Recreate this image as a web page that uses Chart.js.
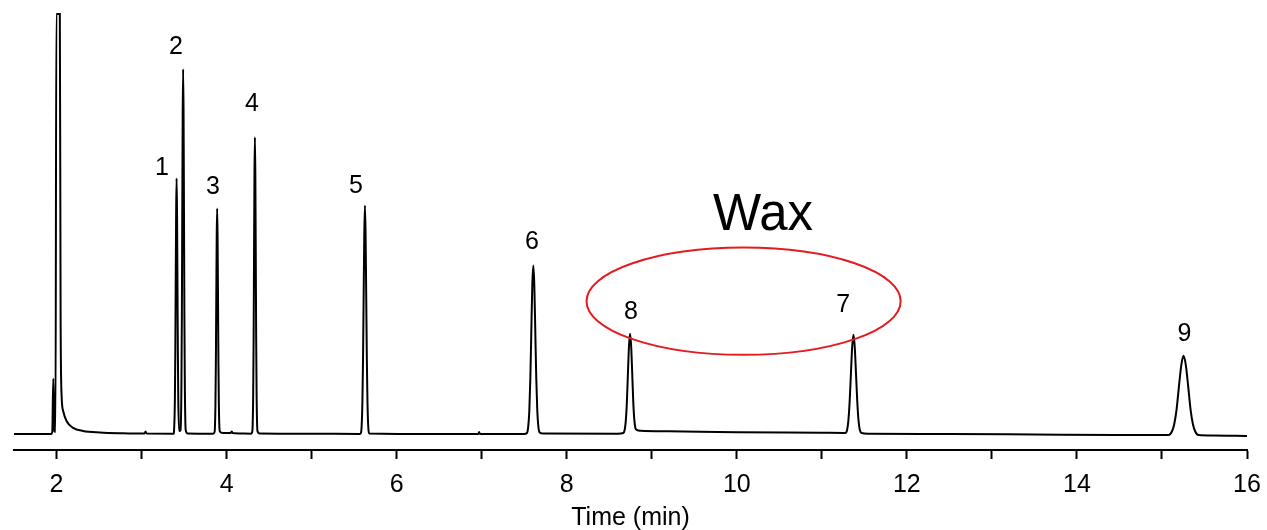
<!DOCTYPE html>
<html>
<head>
<meta charset="utf-8">
<script src="https://cdn.jsdelivr.net/npm/chart.js@4/dist/chart.umd.min.js"></script>
<style>
  body { margin: 0; background: #fff; }
  #wrap { width: 1267px; height: 530px; }
</style>
</head>
<body>
<div id="wrap"><canvas id="chrom"></canvas></div>
<script>
// retention time (min) and detector signal
var retentionTime = [
  1.50, 1.94,
  1.950, 1.962, 1.975, 1.988,
  1.998, 2.039, 2.048, 2.059, 2.078, 2.118, 2.195, 2.313, 2.51, 2.78, 3.0, 3.035, 3.047, 3.06, 3.38,
  3.382, 3.392, 3.397, 3.402, 3.407, 3.412, 3.417, 3.422, 3.427, 3.432, 3.442,
  3.459, 3.469, 3.474, 3.479, 3.484, 3.489, 3.494, 3.499, 3.504, 3.509, 3.519, 3.54,
  3.84,
  3.859, 3.869, 3.874, 3.879, 3.884, 3.889, 3.894, 3.899, 3.904, 3.909, 3.919, 3.94, 4.0, 4.05, 4.06, 4.07, 4.15, 4.29,
  4.303, 4.313, 4.318, 4.323, 4.328, 4.333, 4.338, 4.343, 4.348, 4.353, 4.363, 4.39,
  5.0, 5.57,
  5.577, 5.587, 5.597, 5.6045, 5.612, 5.6195, 5.627, 5.6345, 5.642, 5.6495, 5.657, 5.667, 5.677,
  6.5, 6.96, 6.97, 6.98, 7.5,
  7.532, 7.547, 7.560, 7.572, 7.5835, 7.595, 7.607, 7.619, 7.6305, 7.642, 7.654, 7.667, 7.682, 7.72,
  8.6,
  8.665, 8.6825, 8.695, 8.7075, 8.72, 8.7325, 8.745, 8.7575, 8.77, 8.7825, 8.795, 8.8075, 8.825, 8.87, 9.2, 10.0, 11.0, 11.25,
  11.277, 11.297, 11.312, 11.327, 11.342, 11.357, 11.372, 11.387, 11.402, 11.417, 11.432, 11.447, 11.467, 11.55,
  12.5, 13.5, 14.5, 15.07,
  15.078, 15.117, 15.144, 15.172, 15.199, 15.227, 15.254, 15.281, 15.309, 15.336, 15.364, 15.391, 15.43,
  15.6, 16.0
];
var detectorSignal = [
  0, 0,
  2, 55, 3, 2,
  419, 419, 120, 40, 23, 13, 6, 3, 1.5, 0.7, 0.4, 0.4, 2.5, 0.4, 0.3,
  3, 34, 82, 156, 224, 255, 224, 156, 82, 34, 3,
  4, 49, 117, 222, 320, 364, 320, 222, 117, 49, 4, 0.5,
  0.3,
  2, 30, 72, 137, 198, 225, 198, 137, 72, 30, 3, 1.2, 1, 1, 2.5, 1, 0.5, 0.3,
  3, 40, 95, 181, 260, 296, 260, 181, 95, 40, 3, 0.5,
  0.2, 0,
  0.5, 6, 31, 74, 139, 200, 228, 200, 139, 74, 31, 6, 0.5,
  0, 0, 2, 0, 0,
  1, 7, 23, 55, 102, 148, 168, 148, 102, 55, 23, 7, 1.5, 0.5,
  0.3,
  1, 4.5, 13.5, 32, 61, 88, 100, 88, 61, 32, 14, 6, 4, 3.2, 2.6, 1.8, 1.2, 1,
  1, 4, 13, 32, 60, 87, 99, 87, 60, 32, 13, 4, 1, 0.3,
  0, -0.5, -1, -1,
  -1, 2.5, 9.7, 24.6, 47, 68.5, 78, 68.5, 47, 24.6, 9.7, 2.5, -1,
  -1.5, -2
];

var tickValues = [2, 3, 4, 5, 6, 7, 8, 9, 10, 11, 12, 13, 14, 15, 16];
var tickLabels = ['2', '', '4', '', '6', '', '8', '', '10', '', '12', '', '14', '', '16'];

var peakNumbers = ['1', '2', '3', '4', '5', '6', '8', '7', '9'];
var peakLabelTime = [3.239, 3.404, 3.839, 4.298, 5.521, 7.591, 8.756, 11.25, 15.263];
var peakLabelSignal = [265, 386, 246, 329, 247, 191, 122, 129, 100];

var waxText = 'Wax';
var waxTextAt = [10.308, 218];
var waxRing = { t: 10.08, s: 132.5, dt: 1.847, ds: 53.5 };

var FONT = "'Liberation Sans', Arial, sans-serif";

var points = retentionTime.map(function (t, i) { return { x: t, y: detectorSignal[i] }; });

var notes = {
  id: 'notes',
  afterDatasetsDraw: function (chart) {
    var ctx = chart.ctx, xs = chart.scales.x, ys = chart.scales.y;
    ctx.save();
    ctx.fillStyle = '#000';
    ctx.textAlign = 'center';
    ctx.textBaseline = 'middle';
    ctx.font = '25px ' + FONT;
    peakNumbers.forEach(function (n, i) {
      ctx.fillText(n, xs.getPixelForValue(peakLabelTime[i]), ys.getPixelForValue(peakLabelSignal[i]));
    });
    ctx.font = '51px ' + FONT;
    ctx.fillText(waxText, xs.getPixelForValue(waxTextAt[0]), ys.getPixelForValue(waxTextAt[1]));

    var cx = xs.getPixelForValue(waxRing.t), cy = ys.getPixelForValue(waxRing.s);
    var rx = xs.getPixelForValue(waxRing.t + waxRing.dt) - cx;
    var ry = cy - ys.getPixelForValue(waxRing.s + waxRing.ds);
    ctx.strokeStyle = 'rgb(228,28,32)';
    ctx.lineWidth = 2;
    ctx.beginPath();
    ctx.ellipse(cx, cy, rx, ry, 0, 0, Math.PI * 2);
    ctx.stroke();
    ctx.restore();
  }
};

new Chart(document.getElementById('chrom'), {
  type: 'line',
  data: {
    datasets: [{
      data: points,
      borderColor: '#000',
      borderWidth: 2,
      pointRadius: 0,
      cubicInterpolationMode: 'monotone',
      fill: false
    }]
  },
  options: {
    responsive: true,
    maintainAspectRatio: false,
    animation: false,
    layout: { padding: { top: 12, left: 14, right: 20, bottom: 0 } },
    plugins: { legend: { display: false }, tooltip: { enabled: false } },
    scales: {
      x: {
        type: 'linear',
        min: 1.5,
        max: 16,
        afterBuildTicks: function (s) { s.ticks = tickValues.map(function (v) { return { value: v }; }); },
        afterFit: function (s) { s.paddingLeft = 0; s.paddingRight = 0; },
        grid: { display: true, drawOnChartArea: false, drawTicks: true, tickLength: 9, tickWidth: 2, tickColor: '#000' },
        border: { display: true, color: '#000', width: 2 },
        ticks: {
          color: '#000', padding: 13, maxRotation: 0, autoSkip: false,
          font: { family: FONT, size: 25, lineHeight: 1.04 },
          callback: function (v, i) { return tickLabels[i]; }
        },
        title: {
          display: true, text: 'Time (min)', color: '#000',
          font: { family: FONT, size: 25, lineHeight: 0.6 },
          padding: { top: 0, bottom: 4 }
        }
      },
      y: { display: false, min: -16, max: 421 }
    }
  },
  plugins: [notes]
});
</script>
</body>
</html>
